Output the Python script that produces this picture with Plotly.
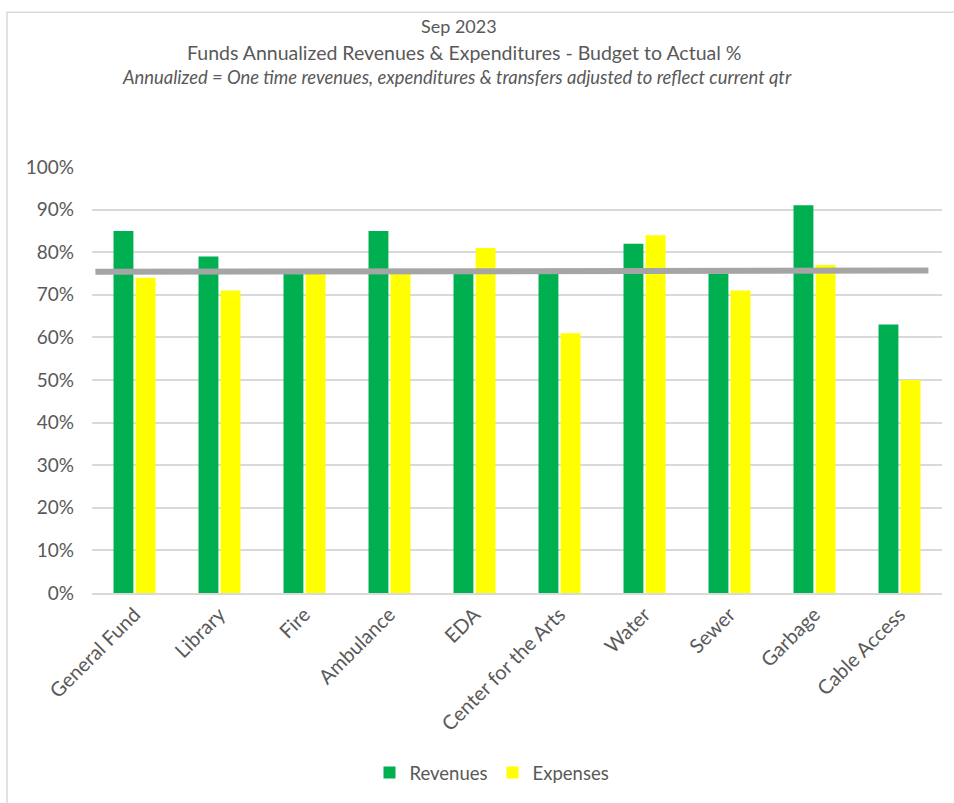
import plotly.graph_objects as go

categories = ["General Fund", "Library", "Fire", "Ambulance", "EDA",
              "Center for the Arts", "Water", "Sewer", "Garbage", "Cable Access"]
revenues = [85, 79, 75, 85, 75, 76, 82, 75, 91, 63]
expenses = [74, 71, 75, 75, 81, 61, 84, 71, 77, 50]

# Reference (budget-to-date) line, spanning slightly past the category bands
target_x = [-0.46, 9.34]
target_y = [75.4, 75.7]

y_ticks = [0, 10, 20, 30, 40, 50, 60, 70, 80, 90, 100]
y_tick_labels = ["0%", "10%", "20%", "30%", "40%", "50%", "60%", "70%", "80%", "90%", "100%"]

title_1 = "Sep 2023"
title_2 = "Funds Annualized Revenues & Expenditures - Budget to Actual %"
subtitle = "Annualized = One time revenues, expenditures & transfers adjusted to reflect current qtr"

FONT = "Lato"
TXT = "#595959"

fig = go.Figure()
fig.add_trace(go.Bar(x=categories, y=revenues, name="Revenues",
                     marker=dict(color="#00B050", line=dict(width=0))))
fig.add_trace(go.Bar(x=categories, y=expenses, name="Expenses",
                     marker=dict(color="#FFFF00", line=dict(width=0))))
fig.add_trace(go.Scatter(x=target_x, y=target_y, xaxis="x2", mode="lines",
                         line=dict(color="#A5A5A5", width=6), showlegend=False,
                         hoverinfo="skip"))

L, R, T, B = 92, 12, 167, 209
W, H = 954, 803
pw, ph = W - L - R, H - T - B

def px(xp):
    return (xp - L) / pw

def py(yp):
    return (H - B - yp) / ph

fig.update_layout(
    width=W, height=H,
    margin=dict(l=L, r=R, t=T, b=B),
    paper_bgcolor="white", plot_bgcolor="white",
    font=dict(family=FONT, color=TXT, size=18),
    barmode="group", bargap=0.48, bargroupgap=0.1,
    showlegend=True,
    legend=dict(orientation="h", x=px(492), y=py(773), xanchor="center", yanchor="middle",
                font=dict(size=18.5, color=TXT), itemwidth=30, traceorder="normal"),
    xaxis=dict(type="category", tickangle=-45, showgrid=False,
               showline=True, linecolor="#D9D9D9", linewidth=2,
               tickfont=dict(size=20, color=TXT), ticks="", range=[-0.5, 9.5]),
    xaxis2=dict(overlaying="x", range=[-0.5, 9.5], visible=False),
    yaxis=dict(range=[0, 100], tickmode="array", tickvals=y_ticks, ticktext=y_tick_labels,
               showgrid=True, gridcolor="#D9D9D9", gridwidth=1.5,
               zeroline=False, showline=False, ticks="",
               ticklabelstandoff=17, tickfont=dict(size=19, color=TXT)),
    annotations=[
        dict(text=title_1, xref="paper", yref="paper", x=px(459), y=py(26),
             showarrow=False, font=dict(size=18, color=TXT), xanchor="center", yanchor="middle"),
        dict(text=title_2, xref="paper", yref="paper", x=px(464), y=py(52),
             showarrow=False, font=dict(size=19.5, color=TXT), xanchor="center", yanchor="middle"),
        dict(text="<i>" + subtitle + "</i>", xref="paper", yref="paper", x=px(457), y=py(77),
             showarrow=False, font=dict(size=18.4, color=TXT), xanchor="center", yanchor="middle"),
    ],
    shapes=[dict(type="rect", xref="paper", yref="paper",
                 x0=px(7), x1=px(960), y0=py(810), y1=py(12),
                 line=dict(color="#D9D9D9", width=1.5), fillcolor="rgba(0,0,0,0)", layer="below")],
)

fig.write_html("out.html", config={"displayModeBar": False},
               post_script="document.body.style.margin='0';document.body.style.overflow='hidden';")
